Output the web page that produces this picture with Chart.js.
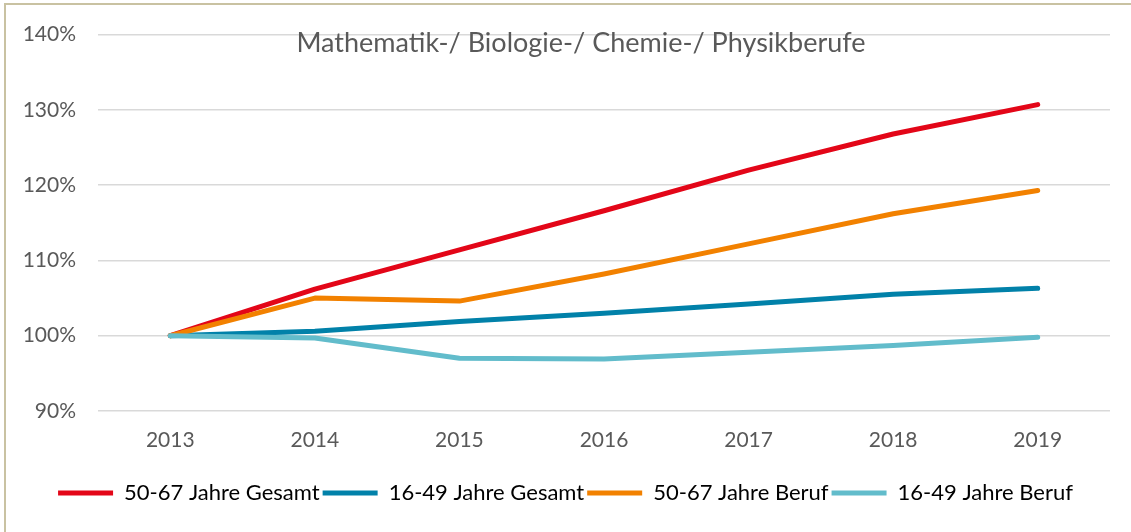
<!DOCTYPE html>
<html>
<head>
<meta charset="utf-8">
<script src="https://cdn.jsdelivr.net/npm/chart.js@4.4.1/dist/chart.umd.min.js"></script>
<style>
  html, body { margin: 0; padding: 0; background: #fff; }
  #wrap { position: relative; width: 1131px; height: 532px; overflow: hidden; }
  #frame { position: absolute; left: 4px; top: 3px; right: -10px; bottom: -10px;
           border-left: 2px solid #c9c2a2; border-top: 2px solid #c9c2a2; }
  canvas { position: absolute; left: 0; top: 0; }
</style>
</head>
<body>
<div id="wrap">
  <div id="frame"></div>
  <canvas id="c" width="1131" height="532"></canvas>
</div>
<script>
const categories = ['2013', '2014', '2015', '2016', '2017', '2018', '2019'];
const seriesNames = ['50-67 Jahre Gesamt', '16-49 Jahre Gesamt', '50-67 Jahre Beruf', '16-49 Jahre Beruf'];
const gesamt5067 = [100, 106.2, 111.4, 116.6, 122.0, 126.8, 130.7];
const gesamt1649 = [100, 100.6, 101.9, 103.0, 104.2, 105.5, 106.3];
const beruf5067  = [100, 105.0, 104.6, 108.2, 112.2, 116.2, 119.3];
const beruf1649  = [100, 99.7, 97.0, 96.9, 97.8, 98.7, 99.8];
const yTicks = [90, 100, 110, 120, 130, 140];
const titleText = 'Mathematik-/ Biologie-/ Chemie-/ Physikberufe';

const colors = ['#e30618', '#0181a9', '#f28100', '#62bccb'];
const FONT = 'Lato, "Open Sans", sans-serif';

const titlePlugin = {
  id: 'overTitle',
  afterDraw(chart) {
    const ctx = chart.ctx;
    ctx.save();
    ctx.font = '27px ' + FONT;
    ctx.fillStyle = '#595959';
    ctx.textAlign = 'center';
    ctx.textBaseline = 'alphabetic';
    ctx.fillText(titleText, 581, 52);
    ctx.restore();
  }
};

const vals = [gesamt5067, gesamt1649, beruf5067, beruf1649];
new Chart(document.getElementById('c'), {
  type: 'line',
  data: {
    labels: categories,
    datasets: vals.map((v, i) => ({
      label: seriesNames[i],
      data: v,
      borderColor: colors[i],
      backgroundColor: colors[i],
      borderWidth: 5,
      borderCapStyle: 'round',
      borderJoinStyle: 'round',
      pointRadius: 0,
      tension: 0,
      fill: false,
      order: 4 - i
    }))
  },
  options: {
    responsive: false,
    animation: false,
    devicePixelRatio: 1,
    layout: { padding: { left: 21, right: 21, top: 33, bottom: 18 } },
    plugins: {
      title: { display: false },
      tooltip: { enabled: false },
      legend: {
        display: true,
        position: 'bottom',
        labels: {
          usePointStyle: true,
          pointStyle: 'line',
          pointStyleWidth: 55,
          boxHeight: 22,
          padding: 3,
          color: '#000',
          font: { family: FONT, size: 22 },
          sort: (a, b) => a.datasetIndex - b.datasetIndex
        }
      }
    },
    scales: {
      x: {
        offset: true,
        grid: { display: false, drawTicks: false },
        border: { display: false },
        ticks: { color: '#595959', font: { family: FONT, size: 21 }, padding: 17, maxRotation: 0 },
        afterFit(s) { s.height = 68; }
      },
      y: {
        min: 90, max: 140,
        afterBuildTicks(s) { s.ticks = yTicks.map(v => ({ value: v })); },
        grid: { color: '#d9d9d9', lineWidth: 1.5, drawTicks: false },
        border: { display: false },
        ticks: { color: '#595959', font: { family: FONT, size: 21 }, padding: 22,
                 callback: v => v + '%' },
        afterFit(s) { s.width = 77; }
      }
    }
  },
  plugins: [titlePlugin]
});
</script>
</body>
</html>
